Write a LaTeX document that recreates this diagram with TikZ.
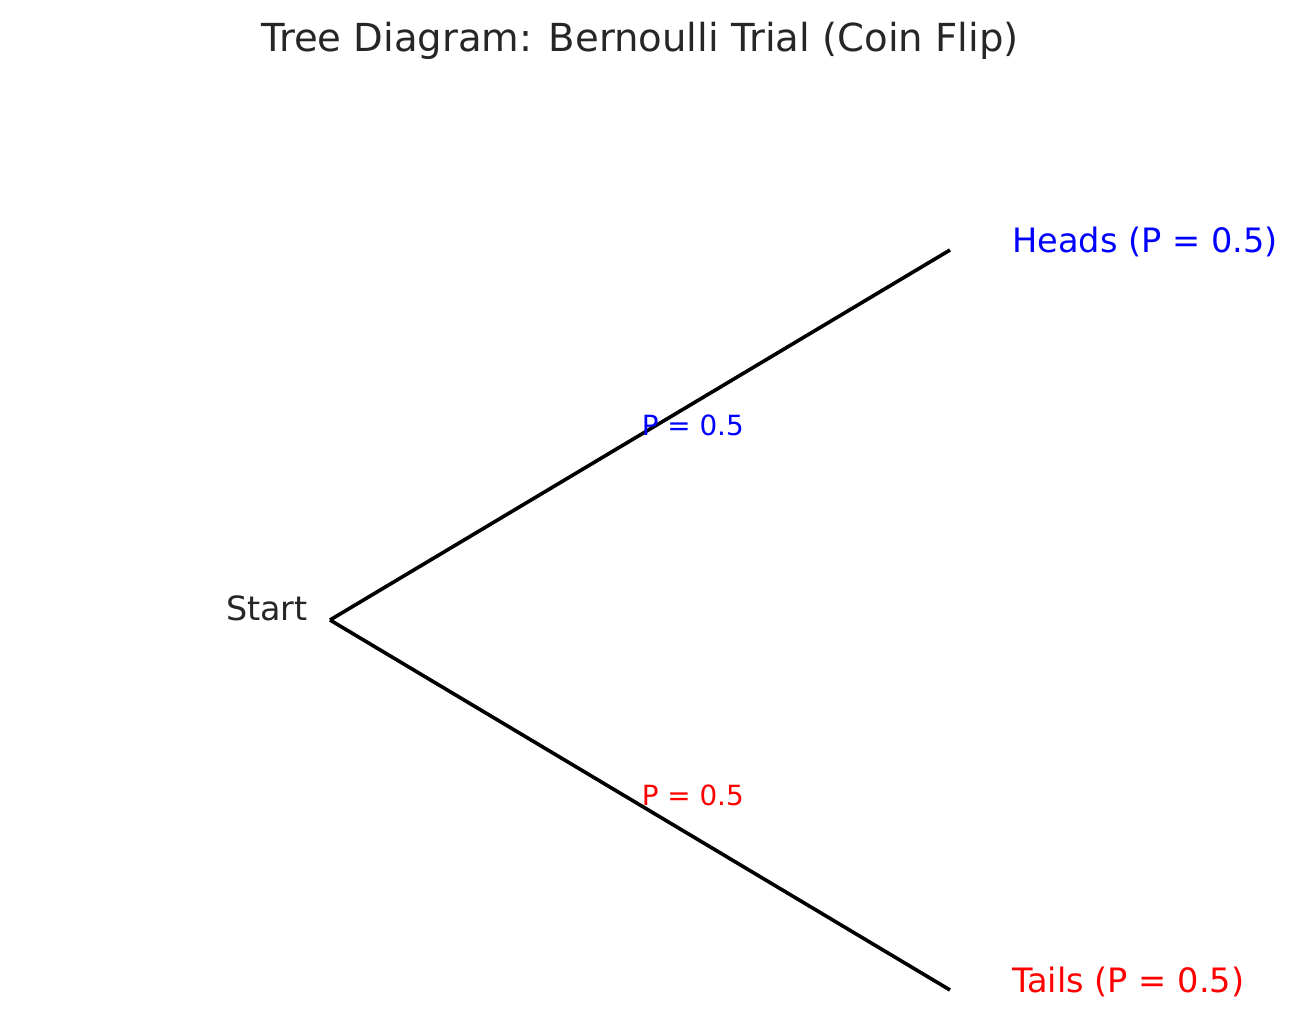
\documentclass[tikz,border=0pt]{standalone}
\usepackage{fontspec}
\setmainfont{DejaVu Sans}
\usepackage{xcolor}
\usepackage{tikz}
\usetikzlibrary{positioning}
\definecolor{dark}{HTML}{262626}
\definecolor{headsc}{HTML}{0000FF}
\definecolor{tailsc}{HTML}{FF0000}
\tikzset{
    title/.style={inner sep=0pt, anchor=base, font=\fontsize{19.3}{22}\selectfont, text=dark},
    root/.style={inner sep=0pt, anchor=base east, font=\fontsize{16.7}{20}\selectfont, text=dark},
    leaf/.style={inner sep=0pt, anchor=base west, font=\fontsize{16.8}{20}\selectfont},
    branch/.style={line width=1.8pt, color=black},
    prob/.style={inner sep=0pt, anchor=base west, font=\fontsize{13.9}{16}\selectfont}
}
\begin{document}
\begin{tikzpicture}[x=0.5pt, y=-0.5pt]
\useasboundingbox (0,0) rectangle (1295,1017);

% Title
\node[title] (ttl) at (640,51) {Tree Diagram: Bernoulli Trial (Coin Flip)};

% Tree points
\coordinate (start) at (330,620);
\coordinate (heads) at (950,250);
\coordinate (tails) at (950,990);

% Branches with probabilities
\draw[branch] (start) -- (heads) node[prob, midway, text=headsc] (ph) {P = 0.5};
\draw[branch] (start) -- (tails) node[prob, midway, text=tailsc] (pt) {P = 0.5};

% Outcome labels
\node[root] (startlbl) at ([shift={(-22,0)}]start) {Start};
\node[leaf, text=headsc] (headslbl) at ([shift={(62,2)}]heads) {Heads (P = 0.5)};
\node[leaf, text=tailsc] (tailslbl) at ([shift={(62,2)}]tails) {Tails (P = 0.5)};

\end{tikzpicture}
\end{document}
